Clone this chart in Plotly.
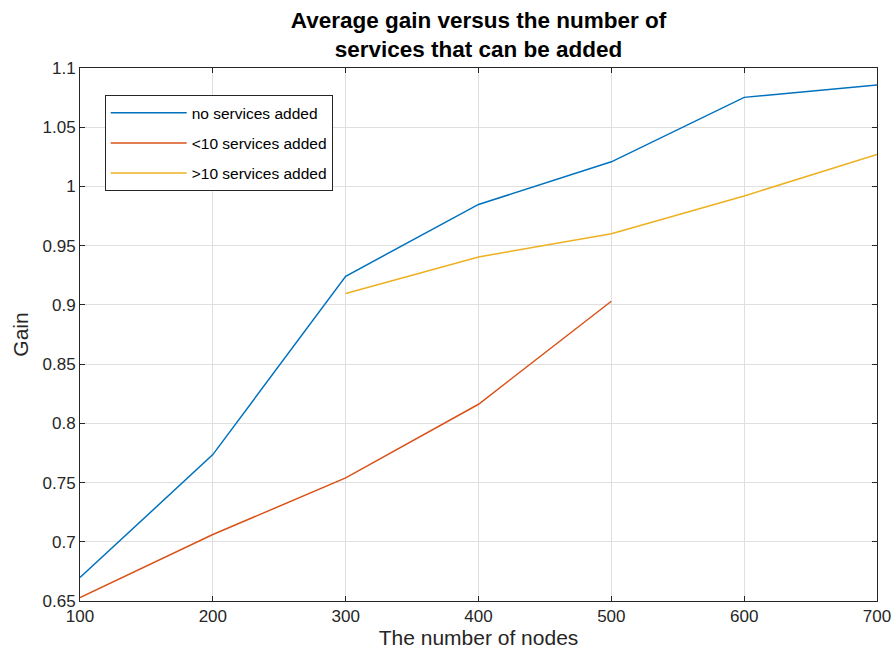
import plotly.graph_objects as go

nodes = [100, 200, 300, 400, 500, 600, 700]
no_added = [0.6698, 0.7736, 0.9242, 0.9848, 1.0208, 1.0752, 1.0856]
nodes_lt10 = [100, 200, 300, 400, 500]
lt10_added = [0.6529, 0.7061, 0.7539, 0.8161, 0.9031]
nodes_gt10 = [300, 400, 500, 600, 700]
gt10_added = [0.9096, 0.9405, 0.9600, 0.9920, 1.0270]

series_names = ["no services added", "<10 services added", ">10 services added"]
colors = ["#0072BD", "#D95319", "#EDB120"]

y_ticks = [0.65, 0.7, 0.75, 0.8, 0.85, 0.9, 0.95, 1.0, 1.05, 1.1]
y_tick_labels = ["0.65", "0.7", "0.75", "0.8", "0.85", "0.9", "0.95", "1", "1.05", "1.1"]
x_ticks = [100, 200, 300, 400, 500, 600, 700]

font_family = "Liberation Sans, Arial, Helvetica, sans-serif"
ink = "#262626"

fig = go.Figure()
for xs, ys, name, c in zip([nodes, nodes_lt10, nodes_gt10],
                           [no_added, lt10_added, gt10_added],
                           series_names, colors):
    fig.add_trace(go.Scatter(x=xs, y=ys, mode="lines", name=name,
                             legendgroup=name,
                             line=dict(color=c, width=1.5)))

fig.update_layout(
    width=895, height=654, autosize=False,
    paper_bgcolor="white", plot_bgcolor="white",
    margin=dict(l=80, r=18, t=68, b=53),
    font=dict(family=font_family, color=ink, size=16),
    title=dict(text="<b>Average gain versus the number of<br>services that can be added</b>",
               x=0.5347, xanchor="center", y=0.957, yanchor="top",
               font=dict(size=22.5, color="black", family=font_family)),
    legend=dict(x=0.031, y=0.949, xanchor="left", yanchor="top",
                bgcolor="white", bordercolor=ink, borderwidth=1,
                font=dict(size=15.5, color="black"), tracegroupgap=7,
                itemwidth=76),
    showlegend=True,
)
fig.update_xaxes(range=[100, 700], tickvals=x_ticks, ticks="inside", ticklen=5,
                 tickcolor=ink, showline=True, linecolor=ink, linewidth=1,
                 mirror="ticks", showgrid=True, gridcolor="#dfdfdf", gridwidth=1,
                 zeroline=False, tickfont=dict(size=17, color=ink),
                 automargin=False, ticklabeloverflow="allow",
                 title=dict(text="The number of nodes", font=dict(size=21, color=ink), standoff=0))
fig.update_yaxes(range=[0.65, 1.1], tickvals=y_ticks, ticktext=y_tick_labels,
                 ticks="inside", ticklen=5, tickcolor=ink, showline=True,
                 linecolor=ink, linewidth=1, mirror="ticks", showgrid=True,
                 gridcolor="#dfdfdf", gridwidth=1, zeroline=False,
                 tickfont=dict(size=17, color=ink),
                 automargin=False, ticklabeloverflow="allow",
                 title=dict(text="Gain", font=dict(size=21, color=ink), standoff=8))

fig.write_html("out.html",
               config={"displayModeBar": False, "responsive": False},
               post_script="document.body.style.margin='0';document.body.style.overflow='hidden';")
